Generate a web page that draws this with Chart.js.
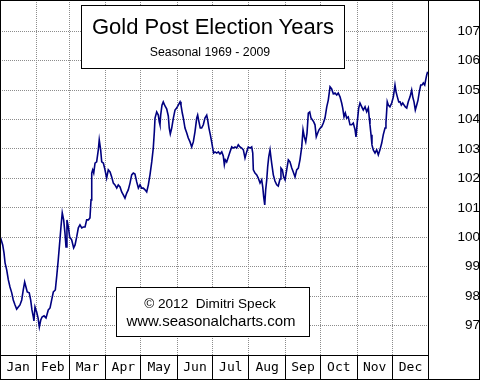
<!DOCTYPE html>
<html><head><meta charset="utf-8">
<script src="https://cdn.jsdelivr.net/npm/chart.js@4"></script>
<style>
html,body{margin:0;padding:0;background:#fff;}
#wrap{position:relative;width:480px;height:380px;overflow:hidden;background:#fff;}
#c{position:absolute;left:0;top:0;}
#frame{position:absolute;left:0;top:0;width:480px;height:380px;box-sizing:border-box;border:1px solid #000;pointer-events:none;}
.box{position:absolute;background:#fff;border:1px solid #000;box-sizing:border-box;}
.t{position:absolute;width:300px;text-align:center;white-space:pre;font-family:"Liberation Sans",Arial,sans-serif;color:#000;}
</style></head>
<body>
<div id="wrap">
<canvas id="c" width="480" height="380"></canvas>
<div class="box" style="left:81px;top:5px;width:264px;height:64px;"></div>
<div class="t" style="left:63px;top:16px;font-size:22px;line-height:22px;">Gold Post Election Years</div>
<div class="t" style="left:60px;top:45.5px;font-size:12.3px;line-height:12.3px;">Seasonal 1969 - 2009</div>
<div class="box" style="left:116px;top:287px;width:194px;height:50px;"></div>
<div class="t" style="left:60px;top:296.5px;font-size:13.6px;line-height:14px;">© 2012  Dimitri Speck</div>
<div class="t" style="left:61px;top:313.3px;font-size:15px;line-height:15px;">www.seasonalcharts.com</div>
<div id="frame"></div>
</div>
<script>
const months = ['Jan','Feb','Mar','Apr','May','Jun','Jul','Aug','Sep','Oct','Nov','Dec'];
const monthStarts = [0,31,59,90,120,151,181,212,243,273,304,334,365];
const yTicks = [97,98,99,100,101,102,103,104,105,106,107];

const days = [
0,2.3,3.4,4.3,5.7,7.1,8.5,10.0,11.3,12.8,14.2,15.6,17.0,18.5,19.8,21.0,22.1,23.2,24.9,26.1,27.2,28.4,28.9,29.8,
31.2,32.4,33.5,34.7,35.8,37.5,39.2,41.1,42.6,44.0,45.4,47.1,48.3,49.6,50.8,51.9,53.0,54.2,55.3,56.2,57.0,58.2,
59.3,61.0,62.7,63.9,65.3,66.7,68.1,69.6,70.9,72.4,73.8,75.2,76.6,77.5,78.1,78.9,79.8,80.9,82.3,83.7,84.5,85.7,86.6,88.0,89.4,
90.8,92.2,93.7,95.1,96.5,97.9,99.4,100.7,102.2,103.6,105.0,106.4,107.9,109.2,110.7,112.1,113.5,114.9,116.4,117.8,119.2,
120.6,122.0,123.5,124.9,126.3,127.7,129.2,130.5,131.4,132.0,133.4,134.8,135.6,136.2,136.8,137.9,139.0,140.5,141.9,143.3,144.1,145.0,146.2,147.6,149.0,150.4,
151.8,153.3,154.1,155.2,156.1,157.5,159.0,160.3,161.8,163.2,164.6,166.0,167.5,168.3,169.4,170.5,171.7,173.1,174.5,176.0,176.8,177.9,179.1,180.2,
181.1,181.9,183.1,184.5,185.9,187.3,188.8,190.1,191.0,191.8,193.0,194.4,195.8,197.3,198.6,200.1,201.5,202.9,204.3,205.8,207.2,208.6,210.0,211.4,
212.9,214.3,215.2,215.7,217.1,218.6,219.9,221.4,222.8,223.7,224.5,225.4,226.2,227.1,227.9,228.8,229.9,231.3,232.7,234.1,235.6,236.9,238.4,239.2,240.4,241.5,242.7,
244.1,245.5,246.9,248.4,249.7,251.2,252.6,254.0,255.4,256.9,258.0,259.1,260.3,261.4,262.5,263.7,264.8,265.9,267.1,268.2,269.3,270.5,271.6,272.7,
273.9,275.3,276.7,278.2,279.5,281.0,282.4,283.8,285.2,286.7,288.0,289.5,290.9,291.8,292.9,294.0,295.2,296.5,298.0,299.4,300.8,302.3,303.1,
304.2,305.4,306.5,308.0,309.3,310.8,312.2,313.6,314.4,315.0,315.9,316.7,317.8,319.3,320.7,322.1,323.5,325.0,326.3,327.8,328.6,329.7,330.6,332.0,333.5,
334.9,336.3,337.2,338.3,339.5,340.6,341.7,342.9,344.0,345.1,346.3,347.6,349.1,350.5,351.4,352.5,353.6,354.8,355.9,357.0,358.2,359.3,360.4,361.6,362.4,363.3,364.1
];
const gold = [
100.04,99.74,99.47,99.13,98.89,98.55,98.31,98.11,97.87,97.70,97.56,97.63,97.70,97.87,98.21,98.48,98.31,98.14,98.11,97.87,97.53,97.29,97.16,97.63,
97.46,97.26,96.95,97.19,97.29,97.33,97.26,97.53,97.60,97.87,98.14,98.21,98.68,99.23,99.81,100.35,100.83,100.59,100.15,99.67,100.59,100.35,
100.01,99.91,99.64,99.74,100.01,100.32,100.42,100.32,100.35,100.35,100.59,100.59,100.66,101.27,102.18,102.29,102.18,102.52,102.56,102.97,103.31,102.97,102.56,102.52,102.29,
102.01,102.29,102.22,102.05,101.84,101.78,101.67,101.78,101.71,101.54,101.44,101.33,101.50,101.61,101.84,102.12,102.18,102.15,101.88,101.67,101.78,
101.67,101.67,101.61,101.54,101.78,102.12,102.56,103.03,103.58,104.05,104.26,104.15,103.92,103.82,104.15,104.49,104.60,104.46,104.36,104.12,103.71,103.51,103.71,104.05,104.32,104.39,
104.49,104.60,104.49,104.22,104.05,103.71,103.54,103.37,103.24,103.07,103.24,103.58,104.05,104.15,103.92,103.71,103.71,103.82,104.05,104.15,103.99,103.71,103.48,103.24,
103.03,102.86,102.90,102.86,102.90,102.83,102.90,102.76,102.46,102.63,102.56,102.73,102.90,103.07,103.03,103.07,103.03,103.14,103.07,103.03,102.97,102.69,102.90,103.07,
103.03,103.07,102.86,102.29,102.18,102.12,102.01,101.84,101.95,101.71,101.37,101.10,101.61,101.95,102.39,102.73,102.97,102.52,102.12,101.91,101.78,101.74,101.98,102.35,102.29,102.05,101.95,
102.29,102.63,102.56,102.35,102.22,102.05,102.29,102.35,102.63,103.07,103.65,103.41,103.24,103.54,104.22,104.26,104.05,103.99,103.92,103.82,103.41,103.54,103.65,103.71,
103.75,103.88,104.05,104.43,104.66,105.11,105.04,104.87,104.90,104.83,104.90,104.77,104.56,104.39,104.09,104.22,104.05,104.09,103.82,103.82,103.88,103.65,103.41,
103.92,104.39,104.56,104.43,104.32,104.43,104.26,104.39,104.05,103.82,103.48,103.14,102.97,102.86,102.97,102.80,102.97,103.20,103.48,103.71,103.88,104.60,104.49,104.43,104.56,
104.77,105.17,104.94,104.77,104.60,104.60,104.49,104.56,104.49,104.43,104.39,104.60,104.77,105.00,104.77,104.60,104.32,104.49,104.66,104.94,105.17,105.17,105.24,105.17,105.34,105.51,105.62
];

const points = days.map((d, i) => ({x: d, y: gold[i]}));

// x ticks: boundary, mid, boundary, mid, ..., boundary
const xTickValues = [];
for (let i = 0; i < months.length; i++) {
  xTickValues.push(monthStarts[i]);
  xTickValues.push((monthStarts[i] + monthStarts[i + 1]) / 2);
}
xTickValues.push(monthStarts[months.length]);

const zeroPad = s => { s.paddingTop = 0; s.paddingBottom = 0; s.paddingLeft = 0; s.paddingRight = 0; };

new Chart(document.getElementById('c'), {
  type: 'line',
  data: {
    datasets: [{
      data: points,
      borderColor: '#000080',
      borderWidth: 1.6,
      pointRadius: 0,
      tension: 0,
      fill: false
    }]
  },
  options: {
    responsive: false,
    animation: false,
    devicePixelRatio: 1,
    parsing: false,
    layout: { padding: 0 },
    plugins: { legend: { display: false }, tooltip: { enabled: false } },
    scales: {
      x: {
        type: 'linear', position: 'bottom', min: 0, max: 365,
        afterBuildTicks: s => { s.ticks = xTickValues.map(v => ({ value: v })); },
        afterFit: s => { s.height = 25; zeroPad(s); },
        grid: {
          color: ctx => (ctx.index % 2 === 0 && ctx.index > 0 && ctx.index < xTickValues.length - 1) ? '#8c8c8c' : 'rgba(0,0,0,0)',
          lineWidth: 1,
          drawTicks: true,
          tickLength: 25,
          tickWidth: 1,
          tickColor: ctx => ctx.index % 2 === 0 ? '#000' : 'rgba(0,0,0,0)'
        },
        border: { display: true, color: '#000', width: 1, dash: [1, 1] },
        ticks: {
          autoSkip: false, maxRotation: 0, minRotation: 0,
          padding: -20,
          color: '#000',
          font: { family: 'DejaVu Sans Mono', size: 13 },
          callback: (v, i) => i % 2 === 1 ? months[(i - 1) / 2] : ''
        }
      },
      y: {
        type: 'linear', position: 'right', min: 96, max: 108.06,
        afterBuildTicks: s => { s.ticks = yTicks.map(v => ({ value: v })); },
        afterFit: s => { s.width = 51.3; zeroPad(s); },
        grid: { color: '#8c8c8c', lineWidth: 1, drawTicks: false },
        border: { display: true, color: '#000', width: 1, dash: [1, 1] },
        ticks: {
          color: '#000',
          crossAlign: 'far',
          padding: 11.3,
          font: { family: 'Liberation Sans', size: 13.5 }
        }
      }
    }
  }
});
</script>
</body></html>
